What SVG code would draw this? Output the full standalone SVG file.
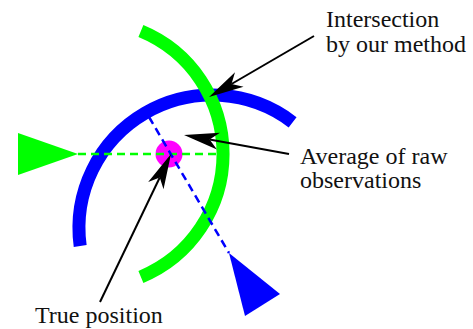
<svg xmlns="http://www.w3.org/2000/svg" width="473" height="329" viewBox="0 0 473 329">
<style>
.lbl{font-family:'Liberation Serif','Times New Roman',serif;font-size:24px;fill:#111}
.arc{fill:none;stroke-width:13;stroke-linecap:butt}
.dash{fill:none;stroke-width:2.5;stroke-dasharray:8 5}
.ptr{fill:none;stroke:#000;stroke-width:2}
</style>
<defs>
<marker id="head" markerUnits="userSpaceOnUse" viewBox="-10 -10 38 20" refX="0" refY="0" markerWidth="38" markerHeight="20" orient="auto">
<path d="M26,0 L-9,-8.5 L0,0 L-9,8.5 Z" fill="#000"/>
</marker>
</defs>
<rect width="473" height="329" fill="#fff"/>
<g id="green-sensor">
<polygon points="18,133 18,175 78,154" fill="#00ff00"/>
</g>
<g id="blue-sensor">
<polygon points="229,253 280,294 245,316" fill="#0000ff"/>
</g>
<g id="true-position">
<circle cx="169" cy="154" r="13.5" fill="#ff00ff"/>
</g>
<g id="blue-arc">
<path class="arc" stroke="#0000ff" d="M80.2,246 A133,133 0 0 1 292.6,122.3"/>
</g>
<g id="green-arc">
<path class="arc" stroke="#00ff00" d="M140.9,31.1 A133,133 0 0 1 140.9,276.9"/>
</g>
<g id="connectors">
<line class="dash" stroke="#00ff00" x1="78" y1="154" x2="220" y2="154"/>
<line class="dash" stroke="#0000ff" x1="149" y1="117" x2="229" y2="253"/>
<line class="ptr" x1="314" y1="36" x2="231.5" y2="84" marker-end="url(#head)"/>
<line class="ptr" x1="289" y1="154" x2="209.6" y2="139.6" marker-end="url(#head)"/>
<line class="ptr" x1="100" y1="302" x2="159.75" y2="177.45" marker-end="url(#head)"/>
</g>
<g id="label-intersection">
<text class="lbl" x="326" y="27">Intersection</text>
<text class="lbl" x="326" y="52">by our method</text>
</g>
<g id="label-average">
<text class="lbl" x="300" y="164">Average of raw</text>
<text class="lbl" x="300" y="188">observations</text>
</g>
<g id="label-true">
<text class="lbl" x="35" y="323">True position</text>
</g>
</svg>
